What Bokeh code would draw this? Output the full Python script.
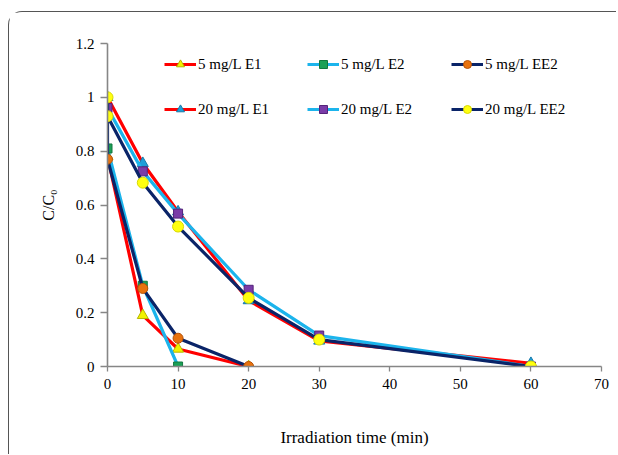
from bokeh.plotting import figure
from bokeh.models import Range1d, Legend, LegendItem, FixedTicker
from bokeh.embed import file_html
from bokeh.resources import INLINE

# data
t5_e1 = [0, 5, 10, 20]
c5_e1 = [0.78, 0.19, 0.065, 0.0]
t5_e2 = [0, 5, 10]
c5_e2 = [0.81, 0.30, 0.0]
t5_ee2 = [0, 0, 5, 10, 20]
c5_ee2 = [0.93, 0.77, 0.29, 0.105, 0.0]
t20_e1 = [0, 5, 10, 20, 30, 60]
c20_e1 = [1.0, 0.755, 0.575, 0.245, 0.095, 0.012]
t20_e2 = [0, 5, 10, 20, 30, 60]
c20_e2 = [0.96, 0.725, 0.568, 0.285, 0.115, 0.0]
t20_ee2 = [0, 0, 5, 10, 20, 30, 60]
c20_ee2 = [1.0, 0.93, 0.683, 0.52, 0.255, 0.10, 0.0]

labels = ["5 mg/L E1", "5 mg/L E2", "5 mg/L EE2", "20 mg/L E1", "20 mg/L E2", "20 mg/L EE2"]
x_ticks = [0, 10, 20, 30, 40, 50, 60, 70]
y_ticks = [0, 0.2, 0.4, 0.6, 0.8, 1.0, 1.2]
y_tick_labels = {0: "0", 0.2: "0.2", 0.4: "0.4", 0.6: "0.6", 0.8: "0.8", 1.0: "1", 1.2: "1.2"}

FONT = "Liberation Serif"
RED = "#FF0000"
LBLUE = "#1CB4EC"
NAVY = "#0A2468"

p = figure(width=608, height=443, output_backend="svg", toolbar_location=None,
           x_range=Range1d(0, 70), y_range=Range1d(0, 1.2),
           min_border_left=98, min_border_right=16, min_border_top=31, min_border_bottom=89)
p.margin = (11, 0, 0, 8)
p.styles = {"border-top": "1px solid #555", "border-left": "1px solid #555",
            "border-top-left-radius": "14px"}
p.xgrid.visible = False
p.ygrid.visible = False
p.outline_line_color = None

series = [
    (t5_e1, c5_e1, RED, "triangle", "#F2F200", "#B5B500", 11),
    (t5_e2, c5_e2, LBLUE, "square", "#1BA056", "#12783E", 9),
    (t5_ee2, c5_ee2, NAVY, "circle", "#E8720E", "#B5530A", 10),
    (t20_e1, c20_e1, RED, "triangle", "#1E9ED8", "#1478A8", 11),
    (t20_e2, c20_e2, LBLUE, "square", "#7A3CA8", "#55247A", 9),
    (t20_ee2, c20_ee2, NAVY, "circle", "#FFFF10", "#D8D800", 11),
]

items = []
for (xs, ys, lc, mk, fc, ec, sz), lab in zip(series, labels):
    l = p.line(xs, ys, line_color=lc, line_width=3.2)
    s = p.scatter(xs, ys, marker=mk, size=sz, fill_color=fc, line_color=ec, line_width=1)
    items.append(LegendItem(label=lab, renderers=[l, s]))

xs_leg = [57, 200, 344]
for i in range(3):
    lg = Legend(items=[items[i], items[i + 3]], location=(xs_leg[i], 247),
                orientation="vertical", spacing=25, padding=0, margin=0,
                glyph_width=32, glyph_height=20, label_height=20, label_standoff=2,
                border_line_color=None, background_fill_alpha=0,
                label_text_font=FONT, label_text_font_size="15px", label_text_color="#000000")
    p.add_layout(lg)

for ax in (p.xaxis[0], p.yaxis[0]):
    ax.axis_line_color = "#868686"
    ax.axis_line_width = 1.6
    ax.major_tick_line_color = "#868686"
    ax.major_tick_line_width = 1.3
    ax.minor_tick_line_color = None
    ax.major_label_text_font = FONT
    ax.major_label_text_font_size = "15px"
    ax.major_label_text_color = "#000000"
    ax.axis_label_text_font = FONT
    ax.axis_label_text_font_style = "normal"
    ax.axis_label_text_color = "#000000"

p.xaxis.axis_label_text_font_size = "17px"
p.yaxis.axis_label_text_font_size = "16px"
p.xaxis.ticker = FixedTicker(ticks=x_ticks)
p.yaxis.ticker = FixedTicker(ticks=y_ticks)
p.yaxis.major_label_overrides = y_tick_labels
p.xaxis.major_tick_in = 0
p.xaxis.major_tick_out = 5
p.yaxis.major_tick_in = 0
p.yaxis.major_tick_out = 7
p.xaxis.major_label_standoff = 7
p.yaxis.major_label_standoff = 6
p.xaxis.axis_label = "Irradiation time (min)"
p.yaxis.axis_label = "C/C\u2080"
p.xaxis.axis_label_standoff = 36
p.yaxis.axis_label_standoff = 16

open("out.html", "w").write(file_html(p, INLINE))
